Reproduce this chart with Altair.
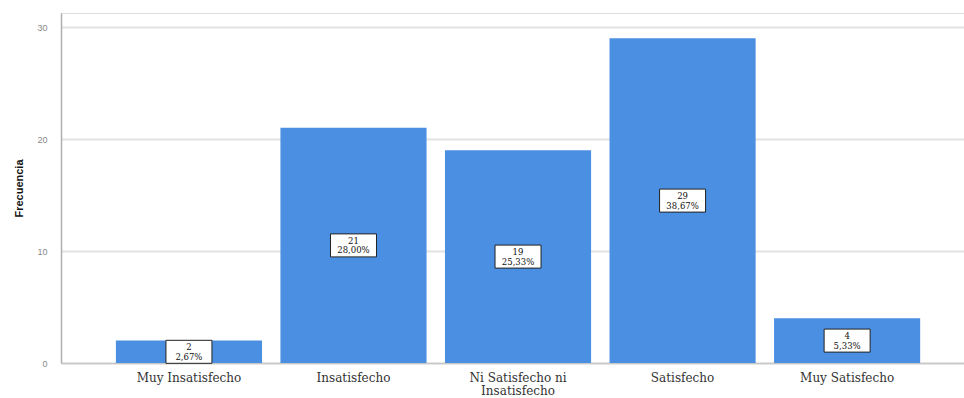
import altair as alt
import pandas as pd

categories = ["Muy Insatisfecho", "Insatisfecho", "Ni Satisfecho ni Insatisfecho", "Satisfecho", "Muy Satisfecho"]
counts = [2, 21, 19, 29, 4]
percents = ["2,67%", "28,00%", "25,33%", "38,67%", "5,33%"]

df = pd.DataFrame({"cat": categories, "n": counts, "pct": percents})
df["mid"] = df["n"] / 2
df["lbl"] = df["n"].astype(str) + "\n" + df["pct"]

SERIF = "DejaVu Serif, Liberation Serif, serif"

x_enc = alt.X(
    "cat:N",
    sort=categories,
    title=None,
    scale=alt.Scale(paddingInner=0.112, paddingOuter=0.30, align=0.556),
    axis=alt.Axis(
        labelAngle=0,
        labelFont=SERIF,
        labelFontSize=12,
        labelColor="#333333",
        labelPadding=9,
        labelLineHeight=13,
        labelExpr="datum.label == 'Ni Satisfecho ni Insatisfecho' ? ['Ni Satisfecho ni', 'Insatisfecho'] : datum.label",
        ticks=False,
        domainColor="#c8c8c8",
        domainWidth=1.5,
        grid=False,
    ),
)

y_scale = alt.Scale(domain=[0, 31.25], nice=False)

bars = alt.Chart(df).mark_bar(color="#4a8fe2").encode(
    x=x_enc,
    y=alt.Y(
        "n:Q",
        scale=y_scale,
        title="Frecuencia",
        axis=alt.Axis(
            values=[0, 10, 20, 30],
            labelFont="Liberation Sans",
            labelFontSize=9,
            labelColor="#888888",
            labelPadding=14,
            ticks=False,
            domainColor="#b0b0b0",
            domainWidth=1.5,
            gridColor="#e2e2e2",
            gridWidth=2,
            titleFont="Liberation Sans",
            titleFontSize=11,
            titleFontWeight="bold",
            titleColor="#111111",
            titlePadding=12,
        ),
    ),
)

box = alt.Chart(df).mark_point(
    shape="M-1,-0.5H1V0.5H-1Z",
    filled=True,
    fill="white",
    stroke="#222222",
    strokeWidth=1,
    opacity=1,
    size=2116,
).encode(
    x=alt.X("cat:N", sort=categories),
    y=alt.Y("mid:Q", scale=y_scale),
)

txt = alt.Chart(df).mark_text(
    font=SERIF,
    fontSize=8.5,
    color="#111111",
    lineBreak="\n",
    lineHeight=9.5,
    baseline="middle",
    dy=-4.5,
).encode(
    x=alt.X("cat:N", sort=categories),
    y=alt.Y("mid:Q", scale=y_scale),
    text="lbl:N",
)

chart = alt.layer(bars, box, txt).properties(
    width=903,
    height=350,
    autosize=alt.AutoSizeParams(type="none"),
    padding={"left": 61, "top": 13, "right": 0, "bottom": 35},
).configure_view(stroke=None).configure(background="white")

chart.save("out.html", embed_options={"renderer": "svg", "actions": False})
